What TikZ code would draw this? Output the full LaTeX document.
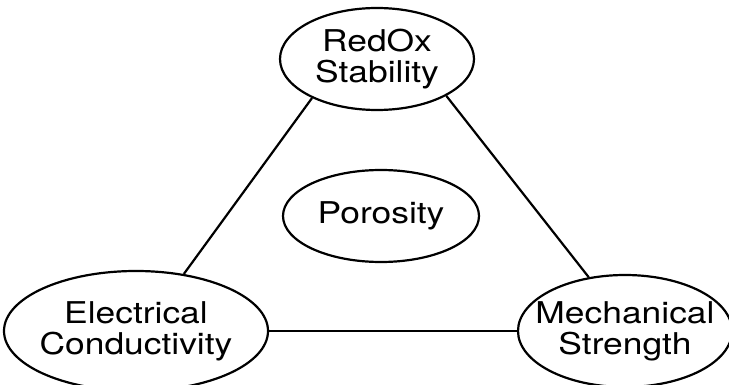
\documentclass[tikz,border=0pt]{standalone}
\usepackage{fontspec}
\setmainfont[FakeStretch=1.18]{TeX Gyre Heros}
\usetikzlibrary{shapes.geometric}

\begin{document}
\begin{tikzpicture}[x=1pt,y=-1pt,
 prop/.style={ellipse,draw,line width=2.2pt,inner xsep=-40pt,inner ysep=0pt,align=center,
   font=\fontsize{30}{31}\selectfont},
 link/.style={line width=2.2pt}]
 \useasboundingbox (0,0) rectangle (729,385);
 \node[prop,minimum width=194pt,minimum height=102pt] (redox) at (377,59) {RedOx\\Stability};
 \node[prop,minimum width=196pt,minimum height=92pt] (poro) at (381,216) {Porosity};
 \node[prop,minimum width=264pt,minimum height=120pt] (elec) at (136,331) {Electrical\\Conductivity};
 \node[prop,minimum width=214pt,minimum height=112pt] (mech) at (625,331) {Mechanical\\Strength};
 \draw[link] (redox.211) -- (elec.50);
 \draw[link] (redox.332) -- (mech.124);
 \draw[link] (elec.east) -- (mech.west);
\end{tikzpicture}
\end{document}
